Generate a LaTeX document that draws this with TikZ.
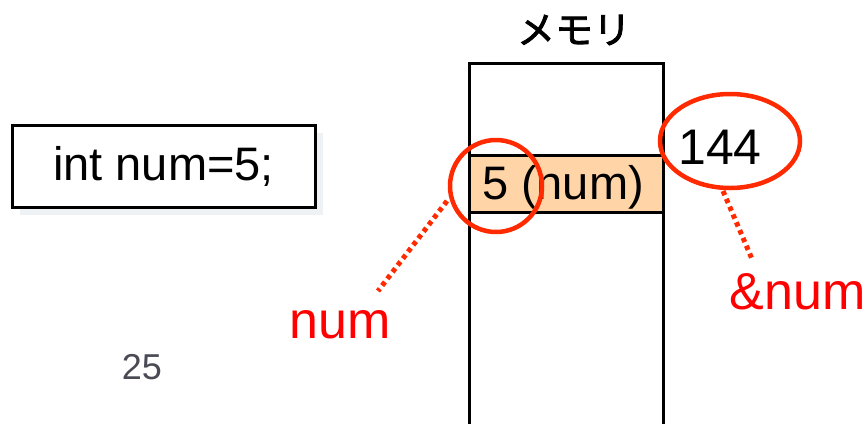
\documentclass[tikz,border=0pt]{standalone}
\usepackage{fontspec}
\usetikzlibrary{shapes.geometric}
\setmainfont{Liberation Sans}
\newfontfamily\jpfont{Noto Sans CJK JP}[FakeBold=2]
\definecolor{peach}{HTML}{FFD4A6}
\definecolor{ringred}{HTML}{FF2A00}
\definecolor{labred}{HTML}{FF0000}
\definecolor{pagegray}{HTML}{4A4A55}
\definecolor{shadowc}{HTML}{EEF2F5}
\tikzset{
  ring/.style={draw=ringred, line width=4.5pt, inner sep=0pt},
  leader/.style={draw=ringred, line width=5pt, dash pattern=on 4.5pt off 4pt},
  bigtext/.style={font=\fontsize{47}{50}\selectfont, inner sep=0pt},
  redlabel/.style={font=\fontsize{52}{54}\selectfont, text=labred, inner sep=0pt},
}
\begin{document}
\begin{tikzpicture}[x=1pt,y=-1pt]
\useasboundingbox (0,0) rectangle (867,424);
% code box with soft shadow
\fill[shadowc] (20,133) rectangle (323,215);
\node[draw=black, line width=3pt, fill=white, minimum width=303pt, minimum height=82pt, inner sep=0pt] (code) at (163.5,166) {};
\node[bigtext] (codetext) at (163.5,166) {int num=5;};
% memory
\node[font=\jpfont\fontsize{38}{40}\selectfont, inner sep=0pt] (memlabel) at (574,30) {メモリ};
\draw[line width=3pt] (469,424) -- (469,63) -- (663,63) -- (663,424);
\node[draw=black, line width=3pt, fill=peach, minimum width=194pt, minimum height=57pt, inner sep=0pt] (cell) at (566,183.5) {};
\node[bigtext] (celltext) at (563,187) {5 (num)};
% address
\node[font=\fontsize{50}{52}\selectfont, inner sep=0pt] (addr) at (720,147) {144};
% rings
\node[ring, circle, minimum size=92pt] (ring1) at (496,186) {};
\node[ring, ellipse, minimum width=140pt, minimum height=94pt] (ring2) at (730,141) {};
% labels
\node[redlabel] (numlab) at (340,325) {num};
\node[redlabel, anchor=east] (addrlab) at (866,292) {\&num};
% leaders
\coordinate (l1a) at (447,201);
\coordinate (l1b) at (378,291);
\coordinate (l2a) at (723,191);
\coordinate (l2b) at (752,259);
\draw[leader] (l1a) -- (l1b);
\draw[leader] (l2a) -- (l2b);
% page number
\node[font=\fontsize{36}{38}\selectfont, text=pagegray, inner sep=0pt] (pagenum) at (142,367) {25};
\end{tikzpicture}
\end{document}
